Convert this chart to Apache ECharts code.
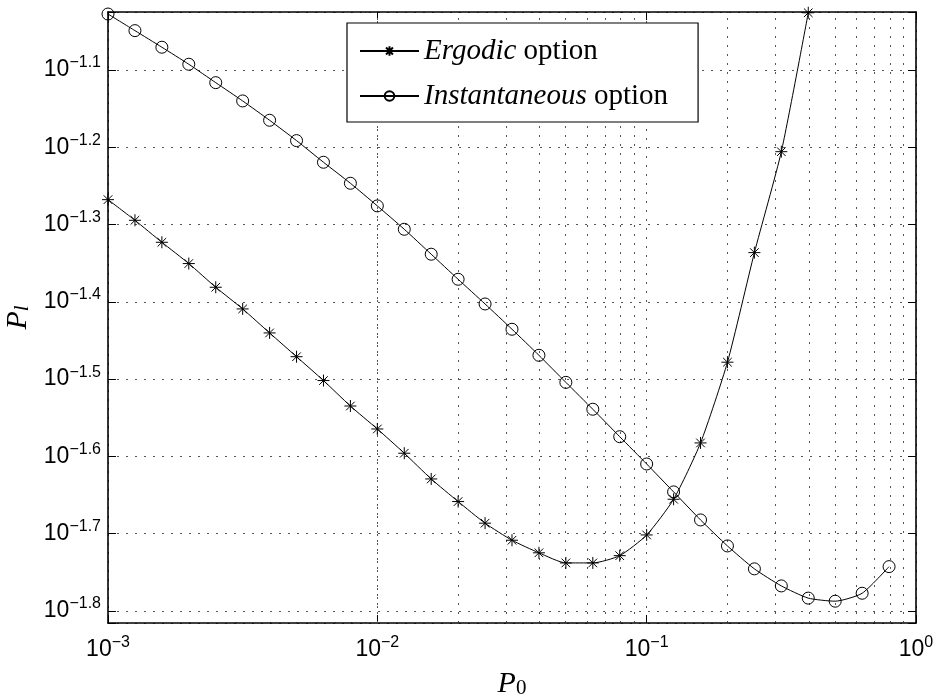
<!DOCTYPE html>
<html><head><meta charset="utf-8">
<script src="https://cdn.jsdelivr.net/npm/echarts@6/dist/echarts.min.js"></script>
<style>html,body{margin:0;padding:0;background:#fff}#c{width:939px;height:700px}</style>
</head><body><div id="c"></div>
<script>
// ---- data ----
const instantaneousP0 = [0.001, 0.001259, 0.001585, 0.001995, 0.002512, 0.003162, 0.003981, 0.005012, 0.00631, 0.007943,
  0.01, 0.01259, 0.01585, 0.01995, 0.02512, 0.03162, 0.03981, 0.05012, 0.0631, 0.07943,
  0.1, 0.1259, 0.1585, 0.1995, 0.2512, 0.3162, 0.3981, 0.5012, 0.631, 0.7943];
const instantaneousPl = [0.09384, 0.08931, 0.08500, 0.08080, 0.07649, 0.07243, 0.06838, 0.06436, 0.06034, 0.05668,
  0.05298, 0.04942, 0.04588, 0.04258, 0.03956, 0.03669, 0.03395, 0.03132, 0.02891, 0.02664,
  0.02456, 0.02260, 0.02079, 0.01924, 0.01797, 0.01708, 0.01647, 0.01632, 0.01671, 0.01809];
const ergodicP0 = [0.001, 0.001259, 0.001585, 0.001995, 0.002512, 0.003162, 0.003981, 0.005012, 0.00631, 0.007943,
  0.01, 0.01259, 0.01585, 0.01995, 0.02512, 0.03162, 0.03981, 0.05012, 0.0631, 0.07943,
  0.1, 0.1259, 0.1585, 0.1995, 0.2512, 0.3162, 0.3981];
const ergodicPl = [0.05398, 0.05076, 0.04754, 0.04462, 0.04158, 0.03898, 0.03629, 0.03381, 0.03149, 0.02919,
  0.02726, 0.02536, 0.02349, 0.02196, 0.02059, 0.01957, 0.01885, 0.01829, 0.01829, 0.01869,
  0.01988, 0.02211, 0.02615, 0.03326, 0.04610, 0.06227, 0.09419];
const seriesNames = ['Ergodic option', 'Instantaneous option'];
const legendLabels = ['{i|Ergodic} option', '{i|Instantaneous} option'];
const xTickExponents = [-3, -2, -1, 0];
const yTickExponents = [-1.8, -1.7, -1.6, -1.5, -1.4, -1.3, -1.2, -1.1];
const xMinorGrid = [0.002, 0.003, 0.004, 0.005, 0.006, 0.007, 0.008, 0.009,
  0.02, 0.03, 0.04, 0.05, 0.06, 0.07, 0.08, 0.09,
  0.2, 0.3, 0.4, 0.5, 0.6, 0.7, 0.8, 0.9];
const xRange = [0.001, 1];
const yRangeExp = [-1.8155, -1.025];

// ---- build ----
const yMin = Math.pow(10, yRangeExp[0]);
const yMax = Math.pow(10, yRangeExp[1]);
const tickFactor = Math.pow(10, 5 / 7729); // ~5px in y
const pairs = (xs, ys) => xs.map((x, i) => [x, ys[i]]);
const MINUS = '\u2212';
const sansFont = 'Liberation Sans';
const serifFont = 'Liberation Serif';
const gridDot = { color: '#555', width: 1, type: [2, 7] };
const labelRich = {
  b: { fontFamily: sansFont, fontSize: 23, lineHeight: 30, color: '#000' },
  s: { fontFamily: sansFont, fontSize: 16, lineHeight: 12, verticalAlign: 'top', color: '#000' }
};
function xLabel(v) {
  const e = Math.round(Math.log10(v));
  if (xTickExponents.indexOf(e) < 0) return '';
  return '{b|10}{s|' + (e < 0 ? MINUS + Math.abs(e) : e) + '}';
}
function yLabel(v) {
  const e = Math.log10(v);
  const idx = yTickExponents.findIndex(t => Math.abs(t - e) < 0.002);
  if (idx < 0) return '';
  return '{b|10}{s|' + MINUS + Math.abs(yTickExponents[idx]).toFixed(1) + '}';
}
const axisLineStyle = { lineStyle: { color: '#000', width: 1.6 } };
const minorGridLines = xMinorGrid.map(x => ({ xAxis: x }));
const minorTicks = [];
xMinorGrid.forEach(x => {
  minorTicks.push([{ coord: [x, yMin] }, { coord: [x, yMin * tickFactor] }]);
  minorTicks.push([{ coord: [x, yMax] }, { coord: [x, yMax / tickFactor] }]);
});
const asterisk = 'path://M0,-6L0,6M-6,0L6,0M-4.3,-4.3L4.3,4.3M-4.3,4.3L4.3,-4.3';
const nameRich = (subItalic) => ({
  i: { fontFamily: serifFont, fontStyle: 'italic', fontSize: 30, lineHeight: 30, verticalAlign: 'top', color: '#000' },
  s: { fontFamily: serifFont, fontStyle: subItalic ? 'italic' : 'normal', fontSize: 21, lineHeight: 20,
       padding: [12, 0, 0, 0], verticalAlign: 'bottom', color: '#000' }
});

const option = {
  animation: false,
  backgroundColor: '#fff',
  grid: { left: 108, right: 23, top: 12, bottom: 77, containLabel: false, outerBoundsMode: 'none' },
  legend: {
    data: seriesNames,
    orient: 'vertical',
    left: 347, top: 23,
    padding: [13, 30, 11, 12],
    itemGap: 15,
    itemWidth: 59, itemHeight: 12,
    backgroundColor: '#fff',
    borderColor: '#000', borderWidth: 1.2,
    formatter: name => legendLabels[seriesNames.indexOf(name)],
    textStyle: {
      fontFamily: serifFont, fontSize: 29, lineHeight: 30, color: '#000',
      rich: { i: { fontFamily: serifFont, fontSize: 29, fontStyle: 'italic', color: '#000' } }
    }
  },
  xAxis: [{
    type: 'log', logBase: 10, min: xRange[0], max: xRange[1], position: 'bottom',
    name: '{i|P}{s|0}', nameLocation: 'middle', nameGap: 40,
    nameTextStyle: { rich: nameRich(false) },
    axisLine: axisLineStyle,
    axisTick: { inside: true, length: 8, lineStyle: { color: '#000', width: 1 } },
    axisLabel: { margin: 12, formatter: xLabel, rich: labelRich },
    splitLine: { show: true, lineStyle: gridDot }
  }, {
    type: 'log', logBase: 10, min: xRange[0], max: xRange[1], position: 'top',
    axisLine: axisLineStyle,
    axisTick: { inside: true, length: 8, lineStyle: { color: '#000', width: 1 } },
    axisLabel: { show: false }, splitLine: { show: false }
  }],
  yAxis: [{
    type: 'log', logBase: Math.pow(10, 0.1), min: yMin, max: yMax, position: 'left',
    name: '{i|P}{s|l}', nameLocation: 'middle', nameGap: 68,
    nameTextStyle: { rich: nameRich(true) },
    axisLine: axisLineStyle,
    axisTick: { inside: true, length: 8, lineStyle: { color: '#000', width: 1 } },
    axisLabel: { margin: 7, formatter: yLabel, rich: labelRich, showMinLabel: true, showMaxLabel: true },
    splitLine: { show: true, lineStyle: gridDot }
  }, {
    type: 'log', logBase: Math.pow(10, 0.1), min: yMin, max: yMax, position: 'right',
    axisLine: axisLineStyle,
    axisTick: { inside: true, length: 8, lineStyle: { color: '#000', width: 1 } },
    axisLabel: { show: false }, splitLine: { show: false }
  }],
  series: [{
    name: seriesNames[0], type: 'line', xAxisIndex: 0, yAxisIndex: 0,
    data: pairs(ergodicP0, ergodicPl),
    smooth: 0.2,
    symbol: asterisk, symbolSize: 12,
    itemStyle: { color: 'rgba(0,0,0,0)', borderColor: '#000', borderWidth: 1 },
    lineStyle: { color: '#000', width: 1 },
    emphasis: { disabled: true },
    markLine: { silent: true, symbol: ['none', 'none'], label: { show: false },
      lineStyle: { color: '#000', width: 1, type: 'solid' }, emphasis: { disabled: true },
      data: minorTicks }
  }, {
    name: seriesNames[1], type: 'line', xAxisIndex: 0, yAxisIndex: 0,
    data: pairs(instantaneousP0, instantaneousPl),
    smooth: 0.2,
    symbol: 'circle', symbolSize: 12,
    itemStyle: { color: 'rgba(0,0,0,0)', borderColor: '#000', borderWidth: 1 },
    lineStyle: { color: '#000', width: 1 },
    emphasis: { disabled: true },
    markLine: { silent: true, symbol: ['none', 'none'], label: { show: false },
      lineStyle: gridDot, emphasis: { disabled: true }, z: 1,
      data: minorGridLines }
  }]
};
const chart = echarts.init(document.getElementById('c'), null, { renderer: 'canvas' });
chart.setOption(option);
</script>
</body></html>
